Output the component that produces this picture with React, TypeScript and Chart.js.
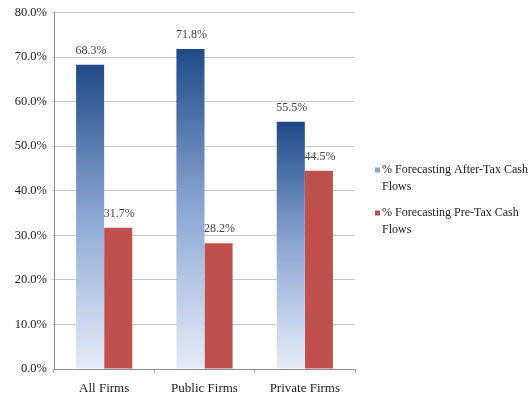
import React, { useEffect, useRef } from "react";
import { Chart, registerables } from "chart.js";

Chart.register(...registerables);

const categories = ["All Firms", "Public Firms", "Private Firms"];
const afterTax = [68.3, 71.8, 55.5];
const preTax = [31.7, 28.2, 44.5];
const seriesLabels = ["% Forecasting After-Tax Cash Flows", "% Forecasting Pre-Tax Cash Flows"];
const legendLines = [
  ["% Forecasting After-Tax Cash", "Flows"],
  ["% Forecasting Pre-Tax Cash", "Flows"],
];
const yTicks = [0, 10, 20, 30, 40, 50, 60, 70, 80];

const FONT = "'Liberation Serif', 'Times New Roman', serif";

const dataLabelPlugin = {
  id: "dataLabels",
  afterDatasetsDraw(chart: any) {
    const ctx = chart.ctx;
    ctx.save();
    ctx.font = `12px ${FONT}`;
    ctx.fillStyle = "#404040";
    ctx.textAlign = "center";
    ctx.textBaseline = "bottom";
    chart.data.datasets.forEach((ds: any, di: number) => {
      const meta = chart.getDatasetMeta(di);
      meta.data.forEach((bar: any, i: number) => {
        ctx.fillText(ds.data[i].toFixed(1) + "%", bar.x + 1, bar.y - 8);
      });
    });
    ctx.restore();
  },
};

const legendPlugin = {
  id: "customLegend",
  afterDraw(chart: any) {
    const ctx = chart.ctx;
    ctx.save();
    ctx.font = `12px ${FONT}`;
    ctx.textAlign = "left";
    ctx.textBaseline = "middle";
    const x0 = 375;
    const starts = [170, 213];
    const colors = ["#8aa6d6", "#c0504d"];
    legendLines.forEach((lines, i) => {
      const y = starts[i];
      ctx.fillStyle = colors[i];
      ctx.fillRect(x0, y - 2.5, 5, 5);
      ctx.fillStyle = "#1a1a1a";
      lines.forEach((t, li) => {
        ctx.fillText(t, x0 + 7, y + li * 17);
      });
    });
    ctx.restore();
  },
};

export default function App() {
  const ref = useRef<HTMLCanvasElement>(null);
  useEffect(() => {
    const chart = new Chart(ref.current as HTMLCanvasElement, {
      type: "bar",
      data: {
        labels: categories,
        datasets: [
          {
            label: seriesLabels[0],
            data: afterTax,
            backgroundColor: (c: any) => {
              const chart = c.chart;
              const y = chart.scales?.y;
              if (!chart.chartArea || !y || c.raw == null) return "#4f73b0";
              const top = y.getPixelForValue(c.raw);
              const bottom = y.getPixelForValue(0);
              const g = chart.ctx.createLinearGradient(0, top, 0, bottom);
              g.addColorStop(0, "#1f4a87");
              g.addColorStop(0.5, "#8da7d4");
              g.addColorStop(1, "#e6ecf7");
              return g;
            },
            borderWidth: 0,
          },
          {
            label: seriesLabels[1],
            data: preTax,
            backgroundColor: "#c0504d",
            borderWidth: 0,
          },
        ],
      },
      options: {
        animation: false,
        responsive: false,
        maintainAspectRatio: false,
        layout: { padding: { top: 12, right: 176, left: 0, bottom: 0 } },
        datasets: { bar: { categoryPercentage: 0.56, barPercentage: 1 } },
        plugins: { legend: { display: false }, tooltip: { enabled: false } },
        scales: {
          x: {
            grid: {
              display: true,
              drawOnChartArea: false,
              offset: true,
              tickLength: 4,
              color: "#a6a6a6",
            },
            border: { color: "#8c8c8c" },
            ticks: { font: { family: FONT, size: 13 }, color: "#1a1a1a", padding: 8 },
            afterFit: (s: any) => {
              s.height = 29;
            },
          },
          y: {
            min: 0,
            max: 80,
            afterBuildTicks: (s: any) => {
              s.ticks = yTicks.map((v) => ({ value: v }));
            },
            grid: { color: "#c8c8c8", drawTicks: true, tickLength: 2 },
            border: { color: "#8c8c8c" },
            ticks: {
              font: { family: FONT, size: 12.5 },
              color: "#1a1a1a",
              padding: 5,
              callback: (v: any) => Number(v).toFixed(1) + "%",
            },
            afterFit: (s: any) => {
              s.width = 54;
            },
          },
        },
      },
      plugins: [dataLabelPlugin, legendPlugin],
    });
    return () => chart.destroy();
  }, []);
  return (
    <div style={{ position: "fixed", left: 0, top: 0, width: 531, height: 398, background: "#fff" }}>
      <canvas ref={ref} width={531} height={398} style={{ width: 531, height: 398 }} />
    </div>
  );
}
